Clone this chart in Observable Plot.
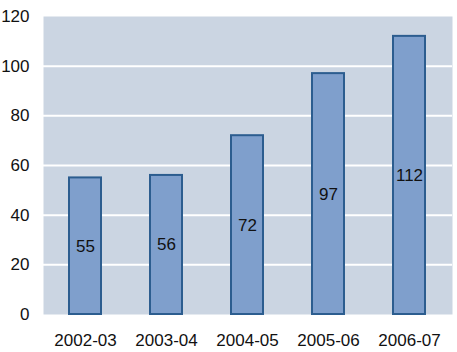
<!DOCTYPE html>
<html>
<head>
<meta charset="utf-8">
<script src="https://cdn.jsdelivr.net/npm/d3@7"></script>
<script src="https://cdn.jsdelivr.net/npm/@observablehq/plot@0.6"></script>
<style>
  html, body { margin: 0; padding: 0; background: #fff; }
  #chart svg { display: block; }
</style>
</head>
<body>
<div id="chart"></div>
<script>
const years = ["2002-03", "2003-04", "2004-05", "2005-06", "2006-07"];
const values = [55, 56, 72, 97, 112];
const yTicks = [0, 20, 40, 60, 80, 100, 120];
const gridTicks = [20, 40, 60, 80, 100];

const data = years.map((y, i) => ({year: y, value: values[i]}));

const chart = Plot.plot({
  width: 457,
  height: 352,
  marginLeft: 43,
  marginRight: 5,
  marginTop: 16,
  marginBottom: 38,
  style: {fontFamily: "Liberation Sans, Arial, sans-serif", fontSize: "17px", color: "#111", background: "#fff"},
  x: {domain: years, paddingInner: 0.6, paddingOuter: 0.3, label: null},
  y: {domain: [0, 120], label: null},
  marks: [
    Plot.frame({fill: "#cbd5e2", stroke: null}),
    Plot.ruleY(gridTicks, {stroke: "#ffffff", strokeWidth: 2}),
    Plot.barY(data, {x: "year", y: "value", fill: "#7f9fcc", stroke: "#2c5d8f", strokeWidth: 2}),
    Plot.text(data, {x: "year", y: d => d.value / 2, text: d => String(d.value), fill: "#111", fontSize: 17}),
    Plot.axisX({tickSize: 0, tickPadding: 19, fontSize: 17, fill: "#111", label: null}),
    Plot.axisY(yTicks, {tickSize: 0, tickPadding: 14, fontSize: 17, fill: "#111", label: null})
  ]
});
document.getElementById("chart").appendChild(chart);
</script>
</body>
</html>
